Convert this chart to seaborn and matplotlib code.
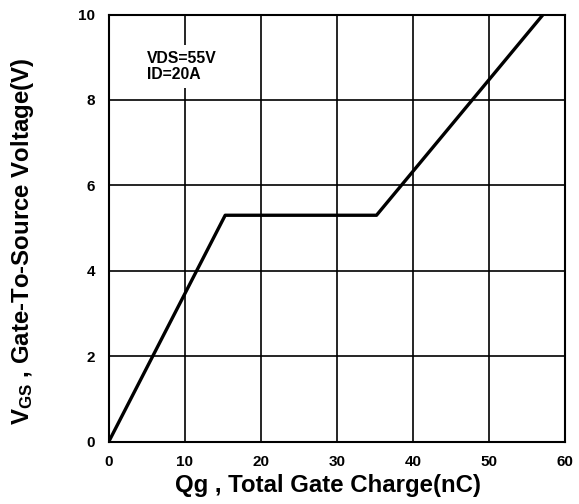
import numpy as np
import pandas as pd
import matplotlib
matplotlib.use("Agg")
import matplotlib.pyplot as plt
import seaborn as sns

# gate charge curve
qg = [0, 15.3, 35.2, 57.1]
vgs = [0, 5.3, 5.3, 10]
x_ticks = [0, 10, 20, 30, 40, 50, 60]
y_ticks = [0, 2, 4, 6, 8, 10]

df = pd.DataFrame({"Qg": qg, "VGS": vgs})

sns.set_style("white")
plt.rcParams['font.family'] = ['Liberation Sans', 'DejaVu Sans']
plt.rcParams['font.weight'] = 'bold'
plt.rcParams['text.color'] = 'black'
plt.rcParams['axes.labelcolor'] = 'black'
plt.rcParams['xtick.color'] = 'black'
plt.rcParams['ytick.color'] = 'black'
plt.rcParams['mathtext.fontset'] = 'custom'
plt.rcParams['mathtext.rm'] = 'Liberation Sans:bold'
plt.rcParams['mathtext.it'] = 'Liberation Sans:bold'
plt.rcParams['mathtext.bf'] = 'Liberation Sans:bold'

fig = plt.figure(figsize=(5.79, 5.04), dpi=100)
ax = fig.add_axes([0.188, 0.124, 0.788, 0.847])

sns.lineplot(data=df, x="Qg", y="VGS", color="black", linewidth=2.4, ax=ax, zorder=3)

ax.set_xlim(0, 60)
ax.set_ylim(0, 10)
ax.set_xticks(x_ticks)
ax.set_yticks(y_ticks)
ax.grid(True, color="black", linewidth=1.2)
ax.set_axisbelow(True)
for s in ax.spines.values():
    s.set_color("black")
    s.set_linewidth(1.5)
ax.tick_params(axis="x", length=0, labelsize=11, pad=9.5)
ax.tick_params(axis="y", length=0, labelsize=11, pad=10)
for lab in ax.get_xticklabels() + ax.get_yticklabels():
    lab.set_fontweight("bold")

ax.set_xlabel("Qg , Total Gate Charge(nC)", fontsize=17.3, fontweight="bold", labelpad=4)
ax.set_ylabel("$\\mathrm{V_{GS}}$ , Gate-To-Source Voltage(V)", fontsize=17.3, fontweight="bold", labelpad=30)
ax.xaxis.label.set_x(0.481)
ax.yaxis.label.set_y(0.468)

ax.text(5.0, 9.15, "VDS=55V\nID=20A", fontsize=11.3, fontweight="bold", va="top", ha="left",
        linespacing=1.1, zorder=4,
        bbox=dict(facecolor="white", edgecolor="none", pad=4))

fig.savefig("out.png", dpi=100)
